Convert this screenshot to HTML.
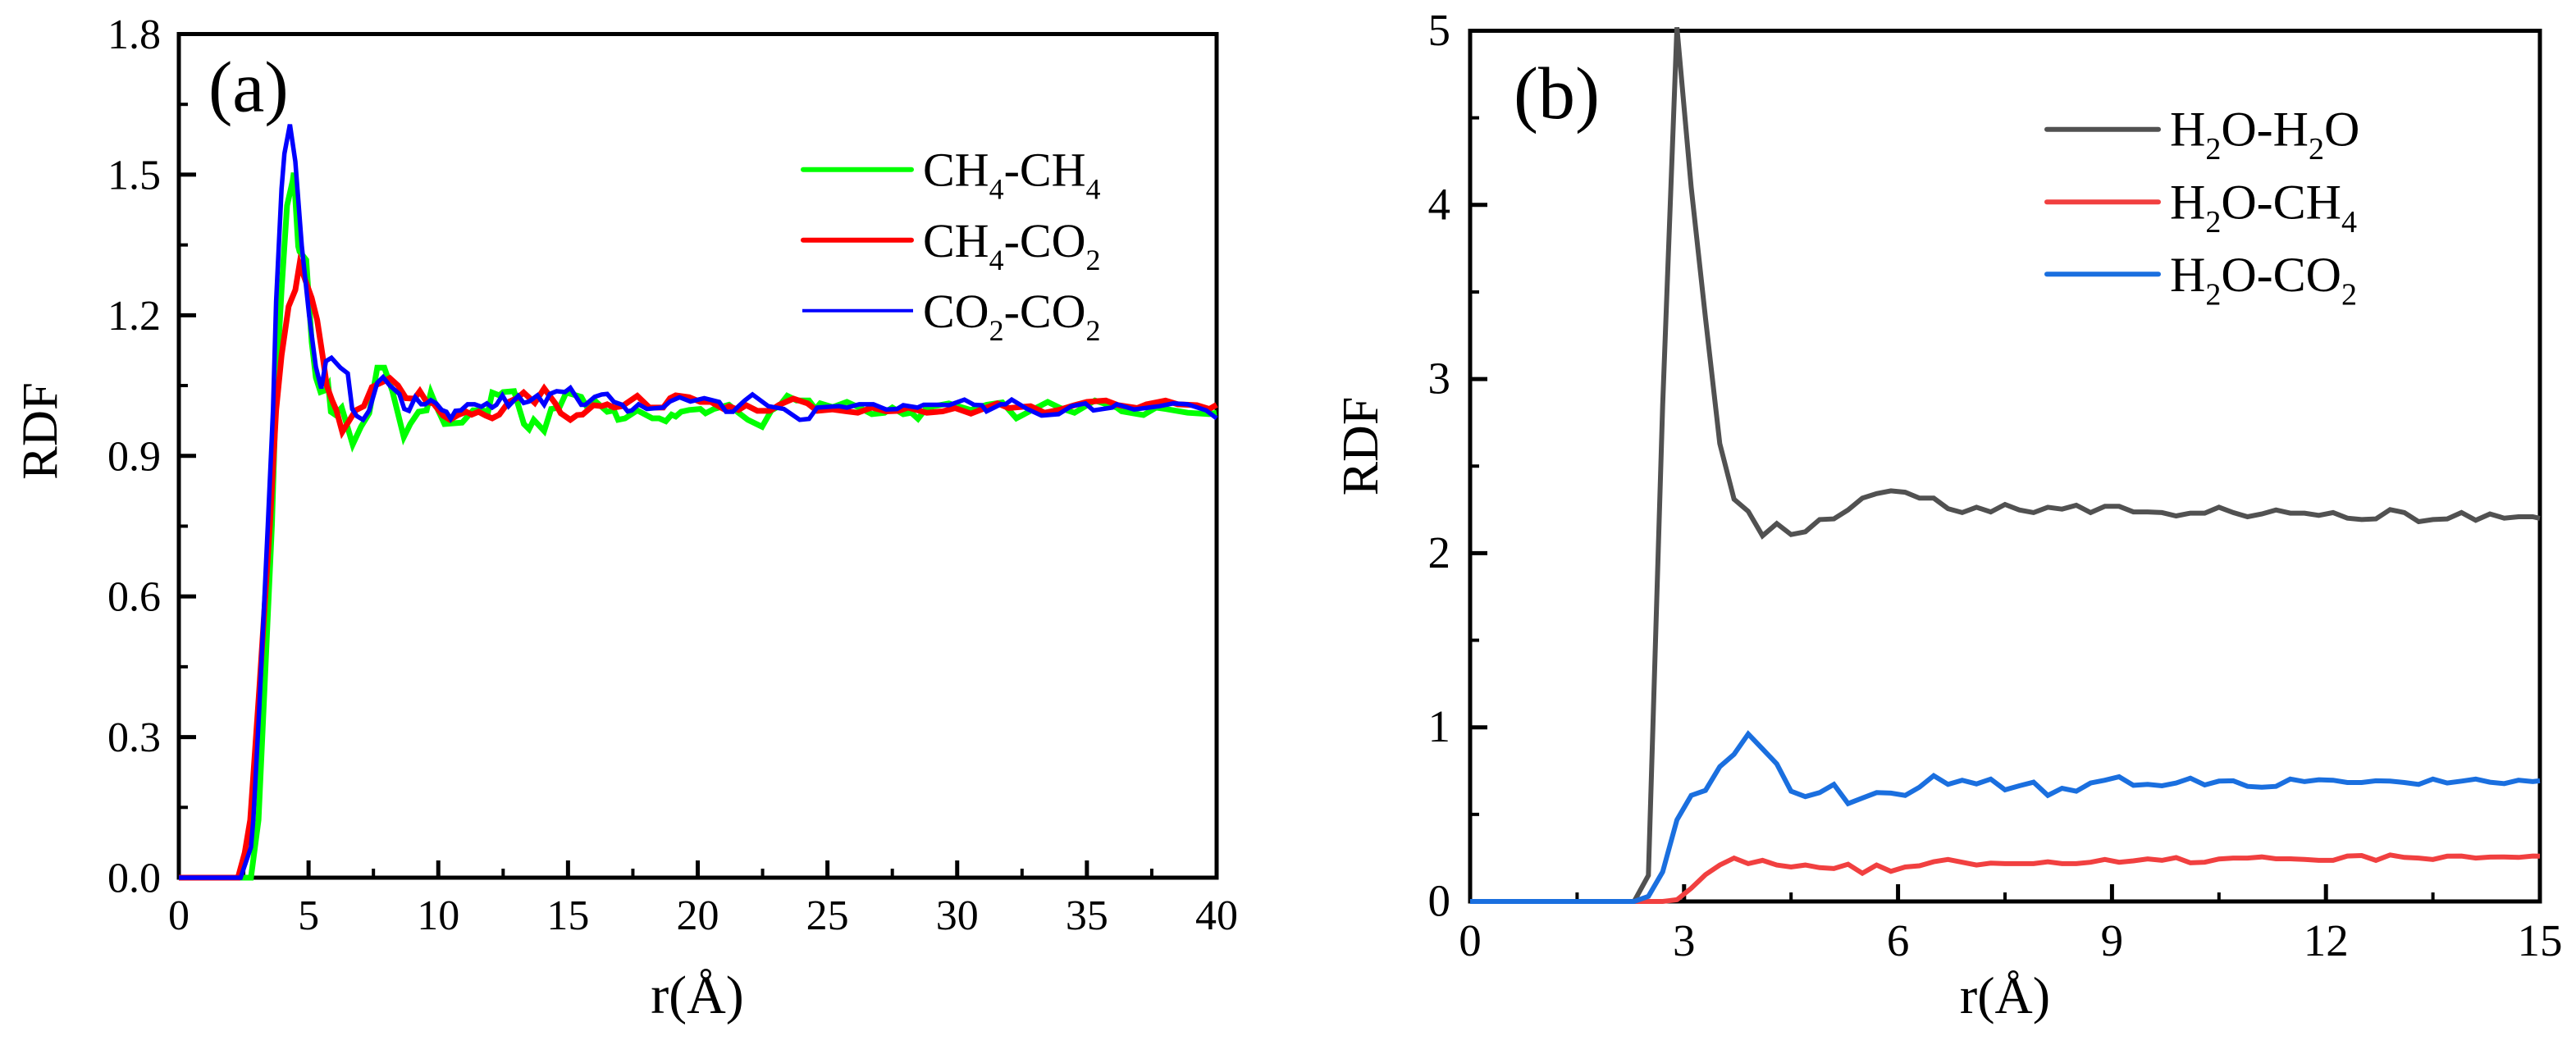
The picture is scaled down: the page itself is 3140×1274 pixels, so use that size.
<!DOCTYPE html>
<html lang="en">
<head>
<meta charset="utf-8">
<title>RDF charts</title>
<style>
html,body{margin:0;padding:0;background:#fff;width:3140px;height:1274px;overflow:hidden}
svg{display:block;font-family:"Liberation Serif",serif;fill:#000}
</style>
</head>
<body>
<svg id="figure" xmlns="http://www.w3.org/2000/svg" width="3140" height="1274" viewBox="0 0 3140 1274">
  <rect width="3140" height="1274" fill="#fff"/>

  <g id="panelA"></g>
  <g id="panelB"></g>

  <text x="254" y="135.5" font-size="88">(a)</text>
  <text x="1845" y="144" font-size="90">(b)</text>

  <text x="850" y="1235" font-size="66" text-anchor="middle">r(Å)</text>
  <text x="2444" y="1235" font-size="64" text-anchor="middle">r(Å)</text>
  <text transform="translate(69,525.5) rotate(-90)" font-size="61" text-anchor="middle">RDF</text>
  <text transform="translate(1679,544) rotate(-90)" font-size="62" text-anchor="middle">RDF</text>

  <g>
    <line x1="979" x2="1111" y1="206.7" y2="206.7" stroke="#00ff00" stroke-width="6" stroke-linecap="round"/>
    <text x="1125" y="226.7" font-size="58">CH<tspan dy="16" font-size="36">4</tspan><tspan dy="-16">-CH</tspan><tspan dy="16" font-size="36">4</tspan></text>
    <line x1="979" x2="1111" y1="292.7" y2="292.7" stroke="#ff0000" stroke-width="6" stroke-linecap="round"/>
    <text x="1125" y="313" font-size="58">CH<tspan dy="16" font-size="36">4</tspan><tspan dy="-16">-CO</tspan><tspan dy="16" font-size="36">2</tspan></text>
    <line x1="978" x2="1113" y1="378.7" y2="378.7" stroke="#0000ff" stroke-width="4"/>
    <text x="1125" y="399" font-size="58">CO<tspan dy="16" font-size="36">2</tspan><tspan dy="-16">-CO</tspan><tspan dy="16" font-size="36">2</tspan></text>
  </g>

  <g>
    <line x1="2495" x2="2631" y1="157.7" y2="157.7" stroke="#515151" stroke-width="6" stroke-linecap="round"/>
    <text x="2645" y="177.7" font-size="60">H<tspan dy="16.5" font-size="38">2</tspan><tspan dy="-16.5">O-H</tspan><tspan dy="16.5" font-size="38">2</tspan><tspan dy="-16.5">O</tspan></text>
    <line x1="2495" x2="2631" y1="246.3" y2="246.3" stroke="#f14040" stroke-width="6" stroke-linecap="round"/>
    <text x="2645" y="266.7" font-size="60">H<tspan dy="16.5" font-size="38">2</tspan><tspan dy="-16.5">O-CH</tspan><tspan dy="16.5" font-size="38">4</tspan></text>
    <line x1="2495" x2="2631" y1="334.3" y2="334.3" stroke="#1a6fdf" stroke-width="6" stroke-linecap="round"/>
    <text x="2645" y="355" font-size="60">H<tspan dy="16.5" font-size="38">2</tspan><tspan dy="-16.5">O-CO</tspan><tspan dy="16.5" font-size="38">2</tspan></text>
  </g>
</svg>

<script>
// ---------- Panel (a) data ----------
const xTickLabelsA = ['0','5','10','15','20','25','30','35','40'];
const xMinorTicksA = [2.5,7.5,12.5,17.5,22.5,27.5,32.5,37.5];
const yTickLabelsA = ['0.0','0.3','0.6','0.9','1.2','1.5','1.8'];
const yMinorTicksA = [0.15,0.45,0.75,1.05,1.35,1.65];

const rGreenA = [0,2.78,3.07,3.59,3.75,3.96,4.17,4.39,4.43,4.6,4.65,4.91,5.12,5.28,5.46,5.65,5.76,5.86,6.02,6.28,6.7,7.02,7.34,7.65,7.92,8.23,8.52,8.67,8.92,9.24,9.55,9.71,9.97,10.24,10.92,11.34,11.71,11.92,12.08,12.35,12.5,12.92,13.3,13.5,13.68,14.08,14.35,14.67,14.93,15.51,15.77,16.09,16.51,16.77,16.93,17.2,17.67,18.25,18.51,18.77,18.99,19.15,19.36,19.67,20.1,20.3,20.62,21.2,21.57,21.93,22.48,22.84,23.14,23.45,23.81,24.29,24.54,24.72,25.2,25.75,26.23,26.71,27.2,27.5,27.92,28.23,28.49,28.83,29.68,30.53,31.13,31.74,32.28,32.89,33.49,33.98,34.52,35.31,36.15,36.34,37.18,37.67,38.03,38.88,39.72,40];
const gGreenA = [0,0,0.123,0.753,1.044,1.254,1.434,1.487,1.504,1.347,1.336,1.318,1.143,1.067,1.036,1.04,1.05,0.994,0.988,1.003,0.924,0.962,0.991,1.088,1.088,1.038,0.974,0.94,0.968,0.994,0.997,1.035,1.0,0.968,0.971,0.997,0.997,0.994,1.035,1.029,1.036,1.038,0.968,0.957,0.977,0.953,1.0,1.003,1.035,1.026,1.0,1.015,0.994,0.997,0.977,0.98,0.997,0.98,0.98,0.974,0.988,0.984,0.994,0.998,1.0,0.991,1.0,1.009,0.992,0.977,0.962,0.997,1.006,1.028,1.018,1.018,1.0,1.012,1.004,1.015,1.003,0.989,0.992,1.003,0.989,0.992,0.979,1.003,1.012,0.998,1.009,1.014,0.98,0.998,1.015,1.002,0.992,1.018,1.003,0.995,0.987,1.003,1.0,0.992,0.989,0.992];

const rRedA = [0,2.28,2.54,2.75,3.1,3.51,3.75,3.96,4.23,4.49,4.65,4.86,5.12,5.33,5.54,5.7,5.91,6.07,6.3,6.81,7.13,7.44,7.87,8.13,8.45,8.76,9.08,9.29,9.55,9.81,10.18,10.45,10.76,11.08,11.29,11.55,11.82,12.08,12.35,12.71,13.03,13.29,13.72,14.08,14.51,14.72,15.09,15.35,15.56,15.98,16.3,16.51,16.77,17.09,17.35,17.67,18.14,18.67,18.93,19.15,19.67,20.1,20.5,20.99,21.2,21.57,21.87,22.3,22.78,23.14,23.69,24.23,24.6,25.2,25.75,26.17,26.71,27.26,27.74,28.1,28.83,29.44,29.92,30.53,31.13,31.55,31.98,32.83,33.37,33.91,34.52,35.0,35.73,36.21,36.94,37.3,38.03,38.5,39.24,39.72,40];
const gRedA = [0,0,0.053,0.123,0.4,0.753,0.9975,1.114,1.219,1.254,1.309,1.277,1.237,1.19,1.114,1.05,1.018,0.9975,0.951,0.997,1.006,1.047,1.058,1.066,1.05,1.023,1.022,1.038,1.015,1.012,0.986,0.977,0.987,0.994,0.988,0.994,0.986,0.98,0.988,1.015,1.023,1.035,1.013,1.044,1.012,0.991,0.977,0.987,0.988,1.008,1.006,1.01,1.003,1.006,1.016,1.028,1.003,1.003,1.023,1.029,1.025,1.015,1.015,1.0,1.006,0.998,1.008,0.996,0.996,1.009,1.022,1.012,0.996,0.999,0.995,0.992,1.003,0.995,0.996,1.003,0.992,0.995,1.002,0.99,1.003,1.012,1.002,1.006,0.992,0.998,1.008,1.015,1.018,1.008,1.002,1.01,1.018,1.01,1.008,1.0,1.009];

const rBlueA = [0,2.38,2.78,2.87,3.1,3.43,3.63,3.75,3.96,4.07,4.28,4.49,4.74,5.02,5.28,5.49,5.67,5.88,6.23,6.51,6.68,6.86,7.1,7.34,7.65,7.87,8.13,8.5,8.69,8.87,9.11,9.34,9.5,9.71,9.92,10.13,10.31,10.48,10.66,10.87,11.13,11.4,11.66,11.87,12.08,12.24,12.47,12.71,13.08,13.29,13.5,13.82,14.08,14.3,14.56,14.88,15.09,15.51,15.67,16.03,16.3,16.51,16.77,17.09,17.3,17.46,17.72,18.04,18.67,18.93,19.3,19.72,20.25,20.83,21.09,21.36,21.57,21.81,22.11,22.72,23.02,23.32,23.93,24.29,24.6,25.44,25.75,26.23,26.77,27.26,27.68,27.92,28.47,28.71,29.44,29.68,30.28,30.65,30.95,31.13,31.68,31.86,32.1,32.7,33.25,33.91,34.4,34.94,35.25,35.97,36.15,36.82,37.79,38.33,38.88,39.6,40];
const gBlueA = [0,0,0.065,0.123,0.36,0.753,0.9975,1.23,1.47,1.545,1.607,1.528,1.347,1.2,1.09,1.044,1.102,1.109,1.088,1.076,1.0,0.985,0.977,0.997,1.056,1.068,1.05,1.032,1.0,0.996,1.025,1.01,1.01,1.019,1.012,0.998,0.994,0.979,0.996,0.997,1.01,1.01,1.005,1.012,1.003,1.009,1.029,1.006,1.028,1.013,1.016,1.029,1.009,1.032,1.038,1.036,1.045,1.009,1.009,1.026,1.031,1.032,1.015,1.009,0.995,0.997,1.01,1.0,1.003,1.016,1.025,1.016,1.023,1.015,0.994,0.994,1.006,1.018,1.031,1.006,1.003,1.0,0.977,0.979,1.003,1.006,1.003,1.01,1.01,0.999,1.0,1.008,1.003,1.009,1.009,1.008,1.02,1.009,1.008,0.995,1.01,1.01,1.02,1.0,0.986,0.989,1.006,1.012,0.997,1.003,1.01,0.999,1.006,1.012,1.01,0.997,0.98];

// ---------- Panel (b) data ----------
const xTickLabelsB = ['0','3','6','9','12','15'];
const xMinorTicksB = [1.5,4.5,7.5,10.5,13.5];
const yTickLabelsB = ['0','1','2','3','4','5'];
const yMinorTicksB = [0.5,1.5,2.5,3.5,4.5];

const rB = [0,2.3,2.5,2.7,2.9,3.1,3.3,3.5,3.7,3.9,4.1,4.3,4.5,4.7,4.9,5.1,5.3,5.5,5.7,5.9,6.1,6.3,6.5,6.7,6.9,7.1,7.3,7.5,7.7,7.9,8.1,8.3,8.5,8.7,8.9,9.1,9.3,9.5,9.7,9.9,10.1,10.3,10.5,10.7,10.9,11.1,11.3,11.5,11.7,11.9,12.1,12.3,12.5,12.7,12.9,13.1,13.3,13.5,13.7,13.9,14.1,14.3,14.5,14.7,14.9,15];
const gH2OH2O = [0,0,0.15,2.85,5.02,4.1,3.35,2.63,2.31,2.24,2.1,2.17,2.107,2.123,2.193,2.197,2.248,2.316,2.342,2.358,2.35,2.316,2.316,2.256,2.233,2.264,2.237,2.28,2.248,2.233,2.264,2.253,2.275,2.233,2.269,2.269,2.237,2.237,2.233,2.214,2.23,2.23,2.264,2.233,2.209,2.225,2.248,2.23,2.23,2.217,2.233,2.201,2.193,2.197,2.25,2.233,2.181,2.193,2.197,2.233,2.189,2.225,2.201,2.209,2.209,2.2];
const gH2OCH4 = [0,0,0,0,0.01,0.076,0.154,0.209,0.249,0.217,0.236,0.209,0.198,0.209,0.194,0.189,0.214,0.162,0.209,0.173,0.198,0.205,0.228,0.241,0.225,0.209,0.22,0.217,0.217,0.217,0.228,0.217,0.217,0.225,0.241,0.225,0.233,0.244,0.236,0.252,0.222,0.225,0.244,0.249,0.249,0.256,0.245,0.245,0.241,0.236,0.236,0.261,0.264,0.236,0.267,0.253,0.249,0.241,0.26,0.261,0.249,0.255,0.256,0.253,0.261,0.26];
const gH2OCO2 = [0,0,0.029,0.17,0.468,0.609,0.638,0.774,0.845,0.962,0.876,0.79,0.633,0.602,0.625,0.672,0.562,0.594,0.625,0.622,0.609,0.656,0.722,0.672,0.696,0.675,0.703,0.641,0.664,0.685,0.609,0.65,0.633,0.68,0.696,0.716,0.667,0.672,0.664,0.68,0.708,0.669,0.691,0.693,0.661,0.656,0.661,0.703,0.688,0.699,0.696,0.683,0.683,0.693,0.691,0.683,0.672,0.703,0.68,0.691,0.703,0.685,0.677,0.696,0.688,0.693];

// ---------- Axis functions ----------
function scale(d0, d1, p0, p1) {
  return function (v) { return p0 + (v - d0) * (p1 - p0) / (d1 - d0); };
}
const NS = 'http://www.w3.org/2000/svg';
function line(parent, x1, y1, x2, y2, width) {
  const el = document.createElementNS(NS, 'line');
  el.setAttribute('x1', x1);
  el.setAttribute('y1', y1);
  el.setAttribute('x2', x2);
  el.setAttribute('y2', y2);
  el.setAttribute('stroke', '#000');
  el.setAttribute('stroke-width', width);
  parent.appendChild(el);
  return el;
}
function label(parent, x, y, text, size, anchor) {
  const el = document.createElementNS(NS, 'text');
  el.setAttribute('x', x);
  el.setAttribute('y', y);
  el.setAttribute('font-size', size);
  el.setAttribute('text-anchor', anchor);
  el.textContent = text;
  parent.appendChild(el);
  return el;
}
function drawAxes(g, cfg) {
  const box = document.createElementNS(NS, 'rect');
  box.setAttribute('x', cfg.left);
  box.setAttribute('y', cfg.top);
  box.setAttribute('width', cfg.right - cfg.left);
  box.setAttribute('height', cfg.bottom - cfg.top);
  box.setAttribute('fill', 'none');
  box.setAttribute('stroke', '#000');
  box.setAttribute('stroke-width', 5);
  box.setAttribute('stroke-linejoin', 'miter');
  
  
  g.appendChild(box);
  cfg.xLabels.forEach(function (t) {
    const px = cfg.x(parseFloat(t));
    const tick = line(g, px, cfg.bottom, px, cfg.bottom - 21, 5);
    
    
    const txt = label(g, px, cfg.xBase, t, cfg.fontSize, 'middle');
    
    
  });
  cfg.xMinor.forEach(function (v) {
    const px = cfg.x(v);
    const tick = line(g, px, cfg.bottom, px, cfg.bottom - 11, 4);
    
    
  });
  cfg.yLabels.forEach(function (t) {
    const py = cfg.y(parseFloat(t));
    const tick = line(g, cfg.left, py, cfg.left + 21, py, 5);
    
    
    const txt = label(g, cfg.yRight, py + 17.5, t, cfg.fontSize, 'end');
    
    
  });
  cfg.yMinor.forEach(function (v) {
    const py = cfg.y(v);
    const tick = line(g, cfg.left, py, cfg.left + 11, py, 4);
    
    
  });
}
function drawSeries(g, xs, ys, x, y, color, width) {
  const el = document.createElementNS(NS, 'polyline');
  el.setAttribute('points', xs.map(function (r, i) {
    return x(r).toFixed(1) + ',' + y(ys[i]).toFixed(1);
  }).join(' '));
  el.setAttribute('fill', 'none');
  el.setAttribute('stroke', color);
  el.setAttribute('stroke-width', width);
  el.setAttribute('stroke-linejoin', 'miter');
  g.appendChild(el);
  return el;
}

// ---------- Panel (a) ----------
const gA = document.getElementById('panelA');
const xA = scale(0, 40, 218, 1483);
const yA = scale(0, 1.8, 1070, 41.5);
drawAxes(gA, {left:218, right:1483, top:41.5, bottom:1070, x:xA, y:yA, xLabels:xTickLabelsA, xMinor:xMinorTicksA, yLabels:yTickLabelsA, yMinor:yMinorTicksA, xBase:1133, yRight:196, fontSize:52});
const sA1 = drawSeries(gA, rGreenA, gGreenA, xA, yA, '#00ff00', 7);


const sA2 = drawSeries(gA, rRedA, gRedA, xA, yA, '#ff0000', 7);


const sA3 = drawSeries(gA, rBlueA, gBlueA, xA, yA, '#0000ff', 5.5);



// ---------- Panel (b) ----------
const gB = document.getElementById('panelB');
const xB = scale(0, 15, 1792, 3096);
const yB = scale(0, 5, 1099, 37.5);
drawAxes(gB, {left:1792, right:3096, top:37.5, bottom:1099, x:xB, y:yB, xLabels:xTickLabelsB, xMinor:xMinorTicksB, yLabels:yTickLabelsB, yMinor:yMinorTicksB, xBase:1165, yRight:1768, fontSize:55});
const sB1 = drawSeries(gB, rB, gH2OH2O, xB, yB, '#515151', 6);


const sB2 = drawSeries(gB, rB, gH2OCH4, xB, yB, '#f14040', 6);


const sB3 = drawSeries(gB, rB, gH2OCO2, xB, yB, '#1a6fdf', 6);


</script>
</body>
</html>
